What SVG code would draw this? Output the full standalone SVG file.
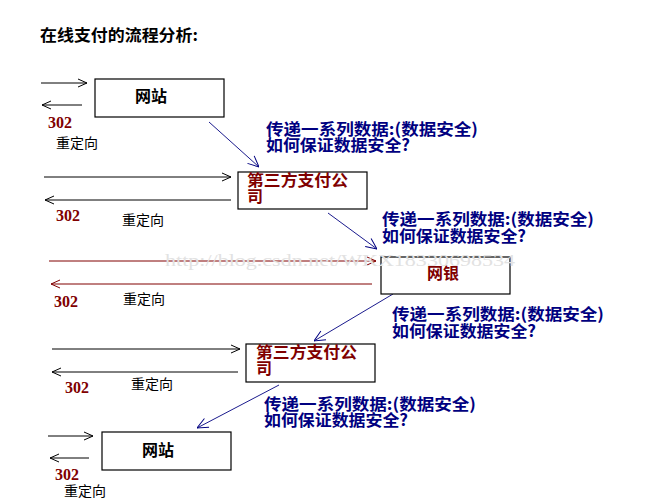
<svg xmlns="http://www.w3.org/2000/svg" width="665" height="501" viewBox="0 0 665 501">
<style>
.box{fill:#fff;stroke:#000;stroke-width:1.2}
.t{font-family:"Noto Sans CJK SC","Liberation Sans",sans-serif;font-weight:bold}
.title{font-size:16px;fill:#000}
.site{font-size:16px;fill:#000}
.red{font-size:16px;fill:#800000}
.lbl{font-size:16px;fill:#000080}
.num{font-family:"Liberation Serif",serif;font-weight:bold;font-size:16px;fill:#800000}
.redir{font-family:"Noto Sans CJK SC","Liberation Sans",sans-serif;font-size:14px;fill:#000}
.ln{stroke:#000;stroke-width:1;fill:none}
.lr{stroke:#800000;stroke-width:1;fill:none}
.lb{stroke:#000080;stroke-width:0.9;fill:none}
.wm{font-family:"Liberation Serif",serif;font-size:17px;fill:#e2e2e2}
</style>
<defs>
<marker id="ab" viewBox="0 0 10 10" refX="10" refY="5" markerWidth="10" markerHeight="10" markerUnits="userSpaceOnUse" orient="auto"><path d="M1,1 L10,5 L1,9" fill="none" stroke="#000" stroke-width="1"/></marker>
<marker id="ar" viewBox="0 0 10 10" refX="10" refY="5" markerWidth="10" markerHeight="10" markerUnits="userSpaceOnUse" orient="auto"><path d="M1,1 L10,5 L1,9" fill="none" stroke="#800000" stroke-width="1"/></marker>
<marker id="au" viewBox="0 0 12 12" refX="12" refY="6" markerWidth="12" markerHeight="12" markerUnits="userSpaceOnUse" orient="auto"><path d="M1,1 L12,6 L1,11" fill="none" stroke="#000080" stroke-width="1"/></marker>
</defs>
<text class="t title" x="40" y="41" textLength="158" lengthAdjust="spacingAndGlyphs">在线支付的流程分析:</text>
<g id="connectors">
<line class="ln" x1="41" y1="83" x2="87" y2="83" marker-end="url(#ab)"/>
<line class="ln" x1="82" y1="105" x2="42" y2="105" marker-end="url(#ab)"/>
<line class="ln" x1="44" y1="177" x2="231" y2="177" marker-end="url(#ab)"/>
<line class="ln" x1="231" y1="200" x2="45" y2="200" marker-end="url(#ab)"/>
<line class="lr" x1="49" y1="261" x2="376" y2="261" marker-end="url(#ar)"/>
<line class="lr" x1="372" y1="284" x2="51" y2="284" marker-end="url(#ar)"/>
<line class="ln" x1="52" y1="349" x2="240" y2="349" marker-end="url(#ab)"/>
<line class="ln" x1="238" y1="372" x2="52" y2="372" marker-end="url(#ab)"/>
<line class="ln" x1="48" y1="436" x2="93" y2="436" marker-end="url(#ab)"/>
<line class="ln" x1="89" y1="458" x2="50" y2="458" marker-end="url(#ab)"/>
<line class="lb" x1="209" y1="122" x2="259" y2="167" marker-end="url(#au)"/>
<line class="lb" x1="328" y1="213" x2="377" y2="249" marker-end="url(#au)"/>
<line class="lb" x1="393" y1="294" x2="314" y2="341" marker-end="url(#au)"/>
<line class="lb" x1="279" y1="385" x2="197" y2="428" marker-end="url(#au)"/>
</g>
<g id="site1">
<rect class="box" x="95" y="79" width="129" height="38"/>
<text class="t site" x="151" y="102" text-anchor="middle">网站</text>
</g>
<g id="pay1">
<rect class="box" x="238" y="172" width="129" height="37"/>
<text class="t red"><tspan x="247" y="186" textLength="101" lengthAdjust="spacingAndGlyphs">第三方支付公</tspan><tspan x="247" y="202">司</tspan></text>
</g>
<g id="bank">
<rect class="box" x="381" y="257" width="129" height="37"/>
<text class="t red" x="443" y="279" text-anchor="middle">网银</text>
</g>
<g id="pay2">
<rect class="box" x="246" y="344" width="129" height="38"/>
<text class="t red"><tspan x="256" y="358" textLength="101" lengthAdjust="spacingAndGlyphs">第三方支付公</tspan><tspan x="256" y="374">司</tspan></text>
</g>
<g id="site2">
<rect class="box" x="102" y="432" width="129" height="38"/>
<text class="t site" x="158" y="456" text-anchor="middle">网站</text>
</g>
<g id="labels">
<text class="t lbl"><tspan x="266" y="135" textLength="212" lengthAdjust="spacingAndGlyphs">传递一系列数据:(数据安全)</tspan><tspan x="266" y="151" textLength="144" lengthAdjust="spacingAndGlyphs">如何保证数据安全?</tspan></text>
<text class="t lbl"><tspan x="382" y="225" textLength="212" lengthAdjust="spacingAndGlyphs">传递一系列数据:(数据安全)</tspan><tspan x="382" y="242" textLength="144" lengthAdjust="spacingAndGlyphs">如何保证数据安全?</tspan></text>
<text class="t lbl"><tspan x="392" y="320" textLength="212" lengthAdjust="spacingAndGlyphs">传递一系列数据:(数据安全)</tspan><tspan x="392" y="337" textLength="144" lengthAdjust="spacingAndGlyphs">如何保证数据安全?</tspan></text>
<text class="t lbl"><tspan x="264" y="410" textLength="212" lengthAdjust="spacingAndGlyphs">传递一系列数据:(数据安全)</tspan><tspan x="264" y="426" textLength="144" lengthAdjust="spacingAndGlyphs">如何保证数据安全?</tspan></text>
<text class="num" x="48" y="128">302</text>
<text class="redir" x="56" y="148">重定向</text>
<text class="num" x="56" y="221">302</text>
<text class="redir" x="122" y="225">重定向</text>
<text class="num" x="54" y="307">302</text>
<text class="redir" x="123" y="304">重定向</text>
<text class="num" x="65" y="393">302</text>
<text class="redir" x="131" y="389">重定向</text>
<text class="num" x="55" y="480">302</text>
<text class="redir" x="64" y="496">重定向</text>
</g>
<text class="wm" x="165" y="266" textLength="350" lengthAdjust="spacingAndGlyphs">http://blog.csdn.net/WKX18330698534</text>
</svg>
